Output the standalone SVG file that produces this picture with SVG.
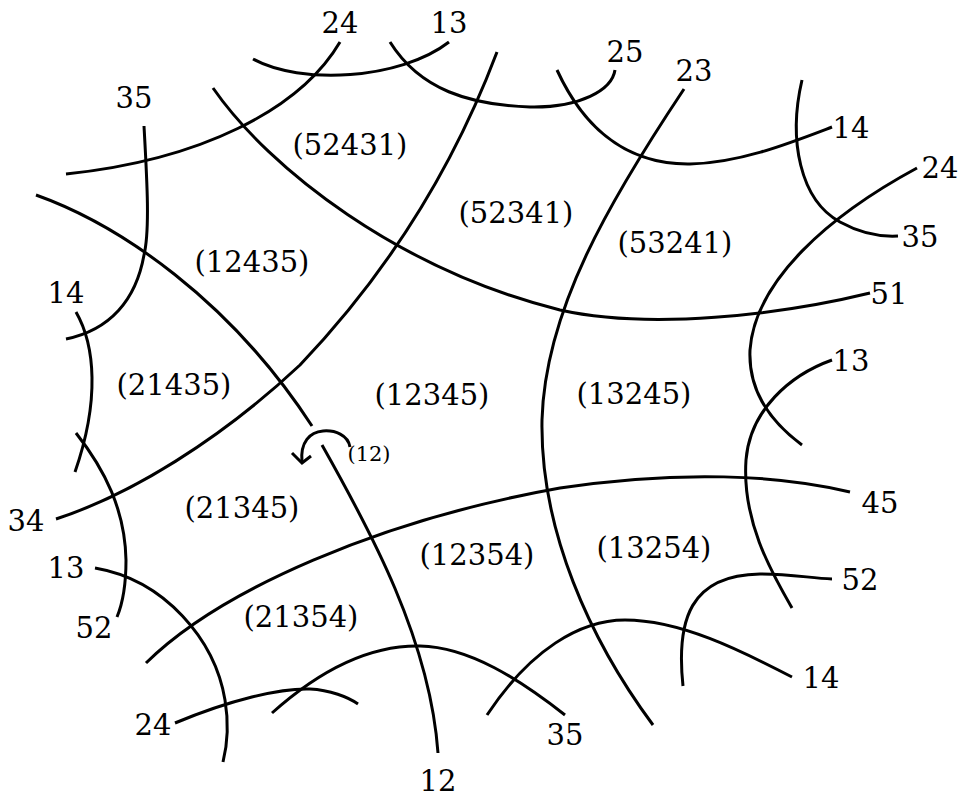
<svg xmlns="http://www.w3.org/2000/svg" width="959" height="798" viewBox="0 0 959 798">
<style>
.c{fill:none;stroke:#000;stroke-width:3;stroke-linecap:butt}
</style>
<rect width="959" height="798" fill="#fff"/>
<g id="curves">
<path class="c" d="M340,42 C300,110 200,160 66,174"/>
<path class="c" d="M449,42 C400,80 300,85 253,59"/>
<path class="c" d="M390,42 C420,90 470,105 530,107 C580,108 612,90 615,70"/>
<path class="c" d="M557,70 C580,120 620,165 690,164 C740,163 790,143 832,127"/>
<path class="c" d="M684,89 C610,200 545,310 542,420 C540,530 590,640 653,725"/>
<path class="c" d="M213,88 C270,170 400,270 560,310 C650,330 780,315 870,293"/>
<path class="c" d="M497,52 C460,150 400,260 300,365 C220,440 130,495 56,519"/>
<path class="c" d="M36,195 C120,225 230,300 312,426"/>
<path class="c" d="M322,445 C370,530 430,640 438,753"/>
<path class="c" d="M144,126 C147,180 150,230 144,255 C136,300 110,330 66,339"/>
<path class="c" d="M76,312 C95,345 100,400 75,472"/>
<path class="c" d="M76,433 C105,470 125,510 126,560 C126,590 122,605 117,617"/>
<path class="c" d="M95,568 C165,580 215,640 225,700 C230,730 226,750 223,762"/>
<path class="c" d="M146,663 C220,590 380,520 560,488 C680,470 780,475 850,492"/>
<path class="c" d="M175,723 C230,700 280,688 310,689 C330,690 348,697 358,704"/>
<path class="c" d="M272,713 C320,670 370,645 420,646 C470,647 520,680 565,715"/>
<path class="c" d="M487,715 C530,650 580,620 625,620 C680,620 740,650 792,677"/>
<path class="c" d="M683,686 C676,620 690,575 760,574 C790,574 810,578 832,579"/>
<path class="c" d="M832,360 C790,375 750,410 746,460 C742,520 770,570 792,608"/>
<path class="c" d="M917,168 C830,215 755,280 750,350 C748,395 775,425 802,445"/>
<path class="c" d="M802,80 C788,140 800,200 840,222 C860,233 880,237 898,236"/>
</g>
<g id="twist">
<path class="c" d="M350,447 C348,435 335,430 323,431 C310,432 300,442 302,462"/>
<path class="c" d="M292,453 L302,463 L311,456"/>
<text x="369" y="461" font-family="DejaVu Serif, serif" font-size="21" text-anchor="middle" fill="#000">(12)</text>
</g>
<g id="regions" font-family="DejaVu Serif, serif" font-size="29" text-anchor="middle" fill="#000">
<text x="350" y="155">(52431)</text>
<text x="252" y="272">(12435)</text>
<text x="174" y="395">(21435)</text>
<text x="516" y="223">(52341)</text>
<text x="675" y="253">(53241)</text>
<text x="432" y="405">(12345)</text>
<text x="634" y="404">(13245)</text>
<text x="242" y="518">(21345)</text>
<text x="477" y="565">(12354)</text>
<text x="654" y="558">(13254)</text>
<text x="301" y="627">(21354)</text>
</g>
<g id="ends" font-family="DejaVu Serif, serif" font-size="29" text-anchor="middle" fill="#000">
<text x="340" y="33">24</text>
<text x="449" y="33">13</text>
<text x="134" y="108">35</text>
<text x="66" y="303">14</text>
<text x="625" y="62">25</text>
<text x="694" y="81">23</text>
<text x="851" y="138">14</text>
<text x="940" y="178">24</text>
<text x="920" y="247">35</text>
<text x="889" y="304">51</text>
<text x="851" y="371">13</text>
<text x="26" y="531">34</text>
<text x="66" y="578">13</text>
<text x="94" y="638">52</text>
<text x="153" y="735">24</text>
<text x="438" y="791">12</text>
<text x="880" y="513">45</text>
<text x="860" y="590">52</text>
<text x="821" y="688">14</text>
<text x="565" y="745">35</text>
</g>
</svg>
